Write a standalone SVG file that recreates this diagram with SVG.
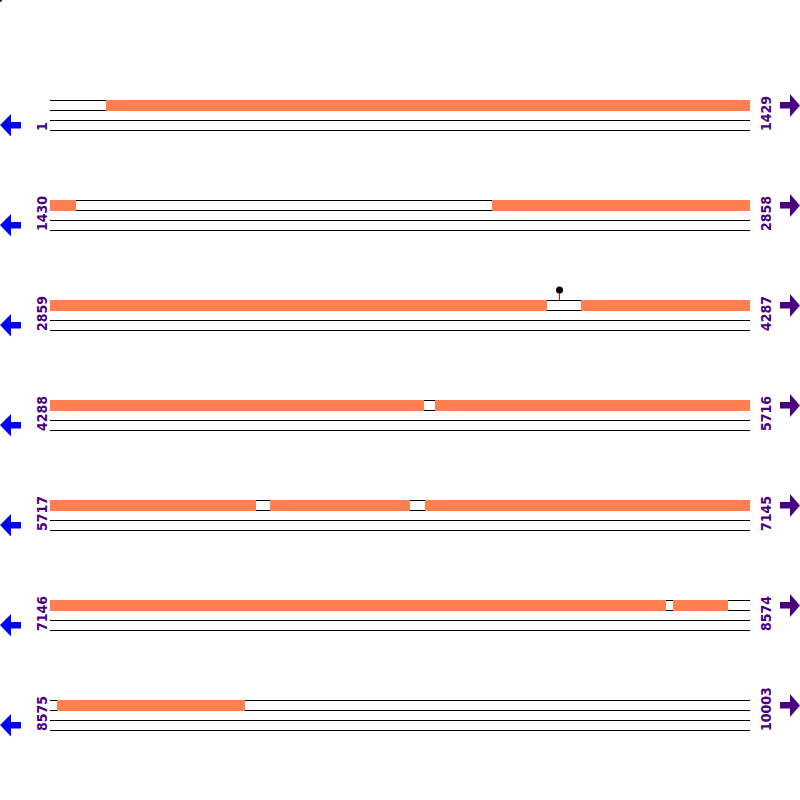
<svg xmlns="http://www.w3.org/2000/svg" width="800" height="800" viewBox="0 0 800 800">
<style>
.ln{stroke:#000;stroke-width:1;fill:none}
.or{fill:#FF7F50}
.lbl{font-family:"DejaVu Sans Condensed","DejaVu Sans",sans-serif;font-stretch:condensed;font-weight:bold;font-size:14px;fill:#4B0082}
.la{fill:#0000FF}
.ra{fill:#4B0082}
</style>
<defs>
<g id="rowlines">
<line class="ln" x1="50" y1="100.5" x2="750" y2="100.5"/>
<line class="ln" x1="50" y1="110.5" x2="750" y2="110.5"/>
<line class="ln" x1="50" y1="120.5" x2="750" y2="120.5"/>
<line class="ln" x1="50" y1="130.5" x2="750" y2="130.5"/>
</g>
<path id="larrow" d="M0,125 L11,114 L11,122 L21,122 L21,128.5 L11,128.5 L11,136.5 Z"/>
<path id="rarrow" d="M800,105.5 L790,94 L790,102 L780,102 L780,108.5 L790,108.5 L790,117 Z"/>
</defs>
<circle cx="0" cy="0" r="2" fill="#000"/>
<g id="row1">
<use href="#rowlines"/>
<rect class="or" x="106" y="100" width="644" height="11"/>
<text class="lbl" transform="translate(46.5,131) rotate(-90)">1</text>
<text class="lbl" transform="translate(771,131) rotate(-90)">1429</text>
<use href="#larrow" class="la"/>
<use href="#rarrow" class="ra"/>
</g>
<g id="row2" transform="translate(0,100)">
<use href="#rowlines"/>
<rect class="or" x="50" y="100" width="26" height="11"/>
<rect class="or" x="492" y="100" width="258" height="11"/>
<text class="lbl" transform="translate(46.5,131) rotate(-90)">1430</text>
<text class="lbl" transform="translate(771,131) rotate(-90)">2858</text>
<use href="#larrow" class="la"/>
<use href="#rarrow" class="ra"/>
</g>
<g id="row3" transform="translate(0,200)">
<use href="#rowlines"/>
<rect class="or" x="50" y="100" width="497" height="11"/>
<rect class="or" x="581" y="100" width="169" height="11"/>
<line x1="559.5" y1="92" x2="559.5" y2="100" stroke="#FF0000" stroke-width="1"/>
<circle cx="559.5" cy="90" r="3.5" fill="#000"/>
<text class="lbl" transform="translate(46.5,131) rotate(-90)">2859</text>
<text class="lbl" transform="translate(771,131) rotate(-90)">4287</text>
<use href="#larrow" class="la"/>
<use href="#rarrow" class="ra"/>
</g>
<g id="row4" transform="translate(0,300)">
<use href="#rowlines"/>
<rect class="or" x="50" y="100" width="374" height="11"/>
<rect class="or" x="435" y="100" width="315" height="11"/>
<text class="lbl" transform="translate(46.5,131) rotate(-90)">4288</text>
<text class="lbl" transform="translate(771,131) rotate(-90)">5716</text>
<use href="#larrow" class="la"/>
<use href="#rarrow" class="ra"/>
</g>
<g id="row5" transform="translate(0,400)">
<use href="#rowlines"/>
<rect class="or" x="50" y="100" width="206" height="11"/>
<rect class="or" x="270" y="100" width="140" height="11"/>
<rect class="or" x="425" y="100" width="325" height="11"/>
<text class="lbl" transform="translate(46.5,131) rotate(-90)">5717</text>
<text class="lbl" transform="translate(771,131) rotate(-90)">7145</text>
<use href="#larrow" class="la"/>
<use href="#rarrow" class="ra"/>
</g>
<g id="row6" transform="translate(0,500)">
<use href="#rowlines"/>
<rect class="or" x="50" y="100" width="616" height="11"/>
<rect class="or" x="673" y="100" width="55" height="11"/>
<text class="lbl" transform="translate(46.5,131) rotate(-90)">7146</text>
<text class="lbl" transform="translate(771,131) rotate(-90)">8574</text>
<use href="#larrow" class="la"/>
<use href="#rarrow" class="ra"/>
</g>
<g id="row7" transform="translate(0,600)">
<use href="#rowlines"/>
<rect class="or" x="57" y="100" width="188" height="11"/>
<text class="lbl" transform="translate(46.5,131) rotate(-90)">8575</text>
<text class="lbl" transform="translate(771,131) rotate(-90)">10003</text>
<use href="#larrow" class="la"/>
<use href="#rarrow" class="ra"/>
</g>
</svg>
